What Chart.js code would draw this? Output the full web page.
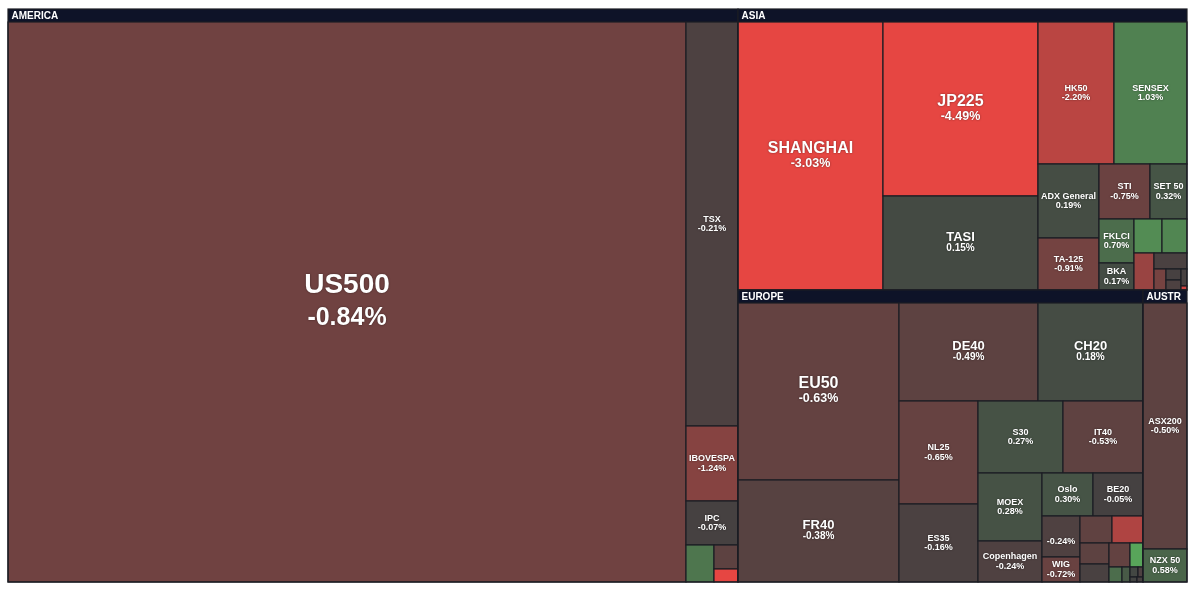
<!DOCTYPE html>
<html>
<head>
<meta charset="utf-8">
<title>Índices mundiales - mapa de calor</title>
<script src="https://cdn.jsdelivr.net/npm/chart.js@4.4.1/dist/chart.umd.min.js"></script>
<style>
    html, body { margin: 0; padding: 0; background: #ffffff; }
    #wrap { width: 1199px; height: 592px; position: relative; }
</style>
</head>
<body>
<div id="wrap"><canvas id="heatmap"></canvas></div>
<script>
// ========================================
// DATOS
// ========================================
const regions = ['AMERICA', 'ASIA', 'EUROPE', 'AUSTRALIA'];

// peso relativo de cada índice (tamaño de la celda) y variación diaria en %
const americaNames   = ['US500', 'TSX', 'IBOVESPA', 'IPC', 'MERVAL', 'COLCAP', 'IPSA'];
const americaWeights = [3887.2, 213.3, 39.6, 23.2, 10.4, 6.0, 3.1];
const americaChanges = [-0.84, -0.21, -1.24, -0.07, 0.85, -0.50, -3.10];

const asiaNames   = ['SHANGHAI', 'JP225', 'TASI', 'HK50', 'SENSEX', 'ADX General', 'TA-125', 'STI', 'SET 50',
                     'FKLCI', 'BKA', 'KOSPI', 'TAIEX', 'VN30', 'PSEi', 'KSE 100', 'JCI', 'QE Index', 'MSM30', 'DFMGI'];
const asiaWeights = [406.7, 282.8, 152.0, 114.4, 108.5, 46.9, 33.0, 29.6, 21.3,
                     16.2, 10.0, 9.7, 8.8, 7.7, 5.6, 2.6, 1.7, 1.5, 1.0, 0.25];
const asiaChanges = [-3.03, -4.49, 0.15, -2.20, 1.03, 0.19, -0.91, -0.75, 0.32,
                     0.70, 0.17, 1.20, 1.10, -1.60, -0.15, -0.95, -0.10, -0.20, -0.10, -2.60];

const europeNames   = ['EU50', 'FR40', 'DE40', 'CH20', 'NL25', 'ES35', 'S30', 'IT40', 'MOEX', 'Copenhagen',
                       'Oslo', 'BE20', 'Budapest', 'WIG', 'Prague', 'ATHEX', 'PSI 20', 'ISEQ', 'BELEX15',
                       'BIST 100', 'OMXH25', 'BET', 'SOFIX', 'CROBEX', 'SBITOP', 'OMXV'];
const europeWeights = [298.0, 172.0, 143.1, 107.3, 86.0, 64.4, 63.8, 60.5, 45.4, 27.6,
                       23.1, 22.3, 16.6, 9.8, 8.9, 8.8, 6.5, 5.4, 5.2,
                       3.3, 1.9, 1.3, 0.7, 0.5, 0.4, 0.3];
const europeChanges = [-0.63, -0.38, -0.49, 0.18, -0.65, -0.16, 0.27, -0.53, 0.28, -0.24,
                       0.30, -0.05, -0.24, -0.72, -0.55, -2.00, -0.50, -0.12, -0.60,
                       1.60, 0.70, 0.40, 0.10, -0.20, 0.05, -0.10];

const australiaNames   = ['ASX200', 'NZX 50'];
const australiaWeights = [114.3, 15.1];
const australiaChanges = [-0.50, 0.58];

// ========================================
// ESTILO
// ========================================
const FONT = '"Liberation Sans", Arial, Helvetica, sans-serif';
const HEADER = 13;            // alto de la cabecera de región (unidades del eje y)
const HEADER_BG = '#0e1328';
const BORDER = '#1c1d24';
const NEUTRAL = [66, 65, 65];
const RED = [230, 70, 66];
const GREEN = [108, 252, 112];

const regionSeries = [
    { names: americaNames, weights: americaWeights, changes: americaChanges },
    { names: asiaNames, weights: asiaWeights, changes: asiaChanges },
    { names: europeNames, weights: europeWeights, changes: europeChanges },
    { names: australiaNames, weights: australiaWeights, changes: australiaChanges }
];

function changeColor(pct) {
    const t = Math.min(Math.abs(pct) / 3, 1);
    const to = pct < 0 ? RED : GREEN;
    const c = NEUTRAL.map((v, i) => Math.round(v + (to[i] - v) * t));
    return `rgb(${c[0]},${c[1]},${c[2]})`;
}

function formatChange(pct) {
    return pct.toFixed(2) + '%';
}

function labelTier(w, h) {
    const m = Math.min(w, h);
    if (m >= 300) return { name: 28, pct: 25, gap: 33 };
    if (m >= 140) return { name: 16, pct: 12.5, gap: 15 };
    if (m >= 90) return { name: 13, pct: 10, gap: 11 };
    return { name: 9, pct: 9, gap: 9.5 };
}

// ========================================
// SQUARIFY (filas con la mejor relación de aspecto)
// ========================================
function squarify(nodes, x0, y0, x1, y1) {
    let value = nodes.reduce((s, n) => s + n.value, 0);
    let i0 = 0, i1 = 0;
    const n = nodes.length;

    while (i0 < n) {
        const dx = x1 - x0, dy = y1 - y0;
        let sum = nodes[i1++].value;
        let minV = sum, maxV = sum;
        const alpha = Math.max(dy / dx, dx / dy) / value;
        let beta = sum * sum * alpha;
        let minRatio = Math.max(maxV / beta, beta / minV);

        for (; i1 < n; i1++) {
            const v = nodes[i1].value;
            sum += v;
            if (v < minV) minV = v;
            if (v > maxV) maxV = v;
            beta = sum * sum * alpha;
            const ratio = Math.max(maxV / beta, beta / minV);
            if (ratio > minRatio) { sum -= v; break; }
            minRatio = ratio;
        }

        const row = nodes.slice(i0, i1);
        if (dx < dy) {
            const yEnd = value ? y0 + dy * sum / value : y1;
            let x = x0;
            row.forEach(nd => {
                nd.x0 = x; x += dx * nd.value / sum; nd.x1 = x;
                nd.y0 = y0; nd.y1 = yEnd;
            });
            y0 = yEnd;
        } else {
            const xEnd = value ? x0 + dx * sum / value : x1;
            let y = y0;
            row.forEach(nd => {
                nd.x0 = x0; nd.x1 = xEnd;
                nd.y0 = y; y += dy * nd.value / sum; nd.y1 = y;
            });
            x0 = xEnd;
        }
        value -= sum;
        i0 = i1;
    }
}

function buildLayout(xs, ys) {
    const groups = regionSeries.map((s, g) => {
        const leaves = s.names.map((name, i) => ({ name, value: s.weights[i], change: s.changes[i] }))
            .sort((a, b) => b.value - a.value);
        return { name: regions[g], leaves, value: leaves.reduce((t, l) => t + l.value, 0) };
    }).sort((a, b) => b.value - a.value);

    squarify(groups, xs.min, ys.min, xs.max, ys.max);
    groups.forEach(gr => squarify(gr.leaves, gr.x0, gr.y0 + HEADER, gr.x1, gr.y1));
    return groups;
}

// ========================================
// DIBUJO
// ========================================
function pixelRect(xs, ys, nd) {
    const l = Math.round(xs.getPixelForValue(nd.x0));
    const r = Math.round(xs.getPixelForValue(nd.x1));
    const t = Math.round(ys.getPixelForValue(nd.y0));
    const b = Math.round(ys.getPixelForValue(nd.y1));
    return { l, t, w: r - l, h: b - t };
}

function drawLabel(ctx, leaf, rc) {
    if (rc.h < 22) return;
    const st = labelTier(rc.w, rc.h);
    const avail = rc.w - 4.5;
    const pctText = formatChange(leaf.change);

    ctx.font = `bold ${st.name}px ${FONT}`;
    const showName = ctx.measureText(leaf.name).width <= avail;
    ctx.font = `bold ${st.pct}px ${FONT}`;
    const showPct = ctx.measureText(pctText).width <= avail;

    const cx = rc.l + rc.w / 2;
    const cy = rc.t + rc.h / 2;
    ctx.fillStyle = '#ffffff';
    if (showName) {
        ctx.font = `bold ${st.name}px ${FONT}`;
        ctx.fillText(leaf.name, cx, showPct ? cy - st.gap / 2 : cy);
    }
    if (showPct) {
        ctx.font = `bold ${st.pct}px ${FONT}`;
        ctx.fillText(pctText, cx, cy + st.gap / 2);
    }
}

const treemapPlugin = {
    id: 'treemap',
    afterDatasetsDraw(chart) {
        const ctx = chart.ctx;
        const xs = chart.scales.x;
        const ys = chart.scales.y;
        const groups = buildLayout(xs, ys);

        ctx.save();
        groups.forEach(gr => {
            const g = pixelRect(xs, ys, gr);
            ctx.fillStyle = HEADER_BG;
            ctx.fillRect(g.l, g.t, g.w, g.h);

            gr.leaves.forEach(leaf => {
                const rc = pixelRect(xs, ys, leaf);
                ctx.fillStyle = changeColor(leaf.change);
                ctx.fillRect(rc.l, rc.t, rc.w, rc.h);
                ctx.strokeStyle = BORDER;
                ctx.lineWidth = 1.2;
                ctx.strokeRect(rc.l, rc.t, rc.w, rc.h);
            });

            ctx.strokeStyle = BORDER;
            ctx.lineWidth = 1.2;
            ctx.strokeRect(g.l, g.t, g.w, g.h);

            // cabecera: se recorta el nombre si no cabe
            const headerH = ys.getPixelForValue(gr.y0 + HEADER) - ys.getPixelForValue(gr.y0);
            ctx.font = `bold 10px ${FONT}`;
            ctx.fillStyle = '#ffffff';
            ctx.textAlign = 'left';
            ctx.textBaseline = 'middle';
            let title = gr.name;
            while (title.length > 1 && ctx.measureText(title).width > g.w - 8) {
                title = title.slice(0, -1);
            }
            ctx.fillText(title, g.l + 3.5, g.t + headerH / 2 + 0.5);
        });

        ctx.textAlign = 'center';
        ctx.textBaseline = 'middle';
        ctx.shadowColor = 'rgba(0,0,0,0.5)';
        ctx.shadowBlur = 2;
        groups.forEach(gr => {
            gr.leaves.forEach(leaf => drawLabel(ctx, leaf, pixelRect(xs, ys, leaf)));
        });
        ctx.restore();
    }
};

// ========================================
// GRÁFICO
// ========================================
const heatmapChart = new Chart(document.getElementById('heatmap').getContext('2d'), {
    type: 'scatter',
    data: { datasets: [{ data: [] }] },
    options: {
        responsive: true,
        maintainAspectRatio: false,
        animation: false,
        events: [],
        layout: { padding: { left: 8, top: 9, right: 12, bottom: 10 } },
        plugins: {
            legend: { display: false },
            tooltip: { enabled: false }
        },
        scales: {
            x: { type: 'linear', min: 0, max: 1179, display: false },
            y: { type: 'linear', min: 0, max: 573, reverse: true, display: false }
        }
    },
    plugins: [treemapPlugin]
});
</script>
</body>
</html>
